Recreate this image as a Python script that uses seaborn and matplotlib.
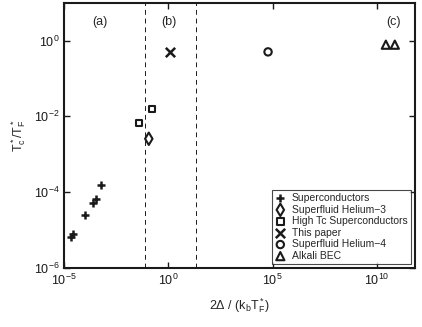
import numpy as np
import pandas as pd
import matplotlib
matplotlib.use("Agg")
import matplotlib.pyplot as plt
import seaborn as sns

sns.set_theme(style="ticks")
plt.rcParams['font.family'] = ['Liberation Sans', 'DejaVu Sans']
plt.rcParams['mathtext.fontset'] = 'custom'
plt.rcParams['mathtext.rm'] = 'Liberation Sans'
plt.rcParams['mathtext.it'] = 'Liberation Sans'

# data (log scales)
sc_x = [10**-3.22, 10**-3.49, 10**-3.60, 10**-4.0, 10**-4.56, 10**-4.66]
sc_y = [10**-3.82, 10**-4.17, 10**-4.28, 10**-4.59, 10**-5.09, 10**-5.18]
he3_x = [10**-0.94]
he3_y = [10**-2.59]
htc_x = [10**-0.78, 10**-1.42]
htc_y = [10**-1.80, 10**-2.17]
paper_x = [10**0.1]
paper_y = [10**-0.3]
he4_x = [10**4.78]
he4_y = [10**-0.3]
bec_x = [10**10.43, 10**10.86]
bec_y = [10**-0.11, 10**-0.11]

categories = ["Superconductors", "Superfluid Helium\u22123", "High Tc Superconductors",
              "This paper", "Superfluid Helium\u22124", "Alkali BEC"]
xs = [sc_x, he3_x, htc_x, paper_x, he4_x, bec_x]
ys = [sc_y, he3_y, htc_y, paper_y, he4_y, bec_y]
markers = ["+", "d", "s", "x", "o", "^"]
sizes = [40, 40, 22, 45, 28, 35]

dashed_x = [10**-1.1, 10**1.34]
region_labels = ["(a)", "(b)", "(c)"]
region_x = [10**-3.3, 10**0.0, 10**10.8]

fig = plt.figure(figsize=(4.22, 3.27), dpi=100)
ax = fig.add_axes([0.152, 0.180, 0.831, 0.811])

for cat, x, y, m, s in zip(categories, xs, ys, markers, sizes):
    df = pd.DataFrame({"x": x, "y": y})
    if m in ["+", "x"]:
        sns.scatterplot(data=df, x="x", y="y", marker=m, s=s, color="k",
                        linewidth=1.8, label=cat, ax=ax)
    else:
        sns.scatterplot(data=df, x="x", y="y", marker=m, s=s, fc="none",
                        ec="k", linewidth=1.5, label=cat, ax=ax)

ax.set_xscale("log")
ax.set_yscale("log")
ax.set_xlim(10**-5, 10**11.82)
ax.set_ylim(1e-6, 10**0.99)

for dx in dashed_x:
    ax.axvline(dx, color="k", linestyle=(0, (5, 4)), linewidth=0.7)

for lab, rx in zip(region_labels, region_x):
    ax.text(rx, 10**0.48, lab, ha="center", va="center", fontsize=9)

ax.set_xticks([1e-5, 1e0, 1e5, 1e10])
ax.set_yticks([1e-6, 1e-4, 1e-2, 1e0])
ax.minorticks_off()
ax.tick_params(direction="in", top=True, right=True, length=4, width=1,
               labelsize=9, colors="k")
for sp in ax.spines.values():
    sp.set_linewidth(1.5)
    sp.set_color("k")

ax.set_xlabel(r"2$\Delta$ / (k$_\mathrm{b}$T$^*_\mathrm{F}$)", fontsize=9, labelpad=6)
ax.set_ylabel(r"T$^*_\mathrm{c}$/T$^*_\mathrm{F}$", fontsize=9, labelpad=4)

leg = ax.legend(loc="lower right", fontsize=7.5, frameon=True, fancybox=False,
                edgecolor="k", borderpad=0.3, labelspacing=0.15, handletextpad=0.6,
                handlelength=1.0, borderaxespad=0.4)
leg.get_frame().set_linewidth(0.8)

fig.savefig("out.png", dpi=100)
